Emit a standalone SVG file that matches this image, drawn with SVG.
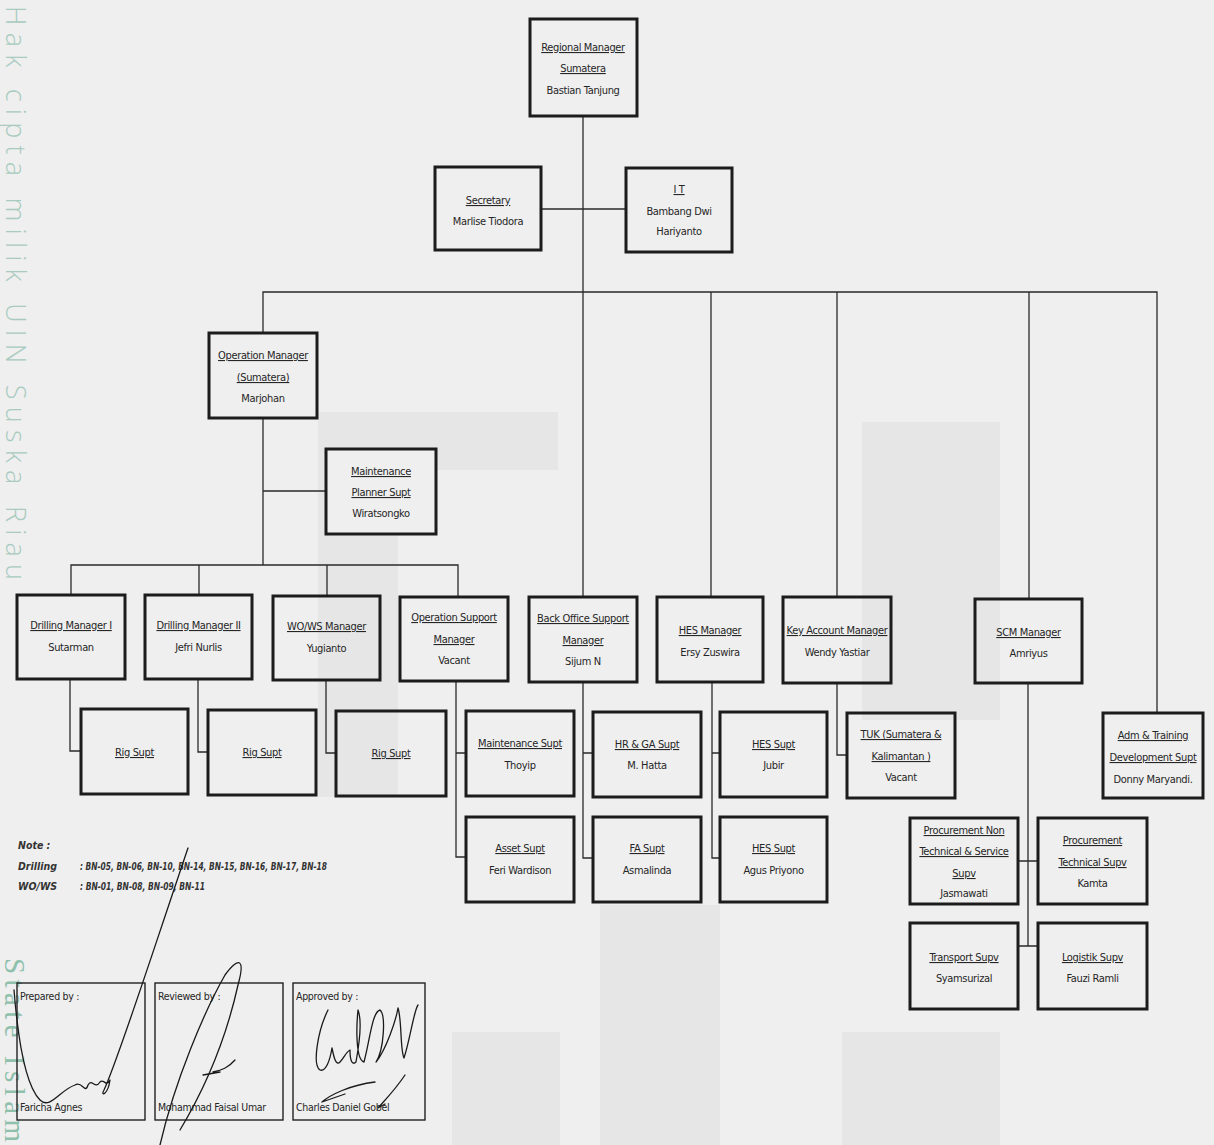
<svg xmlns="http://www.w3.org/2000/svg" width="1214" height="1145" viewBox="0 0 1214 1145">
<style>
.bg{fill:#efefef}
.wmk{fill:#e6e6e6}
.box{fill:none;stroke:#1c1c1c;stroke-width:3}
.sbox{fill:none;stroke:#222;stroke-width:1.4}
.ln{fill:none;stroke:#2a2a2a;stroke-width:1.3}
.sig{fill:none;stroke:#1a1a1a;stroke-width:1.3;stroke-linecap:round;stroke-linejoin:round}
.t{font-family:"DejaVu Sans Condensed","Liberation Sans Narrow","Liberation Sans",sans-serif;font-size:11px;letter-spacing:-0.35px;text-anchor:middle;fill:#262626}
.u{text-decoration:underline}
.n{font-family:"DejaVu Sans Condensed","Liberation Sans",sans-serif;font-size:10.5px;font-style:italic;font-weight:bold;fill:#333}
.s{font-family:"DejaVu Sans Condensed","Liberation Sans",sans-serif;font-size:10.5px;letter-spacing:-0.3px;fill:#262626}
.wm{font-family:"Open Sans","DejaVu Sans",sans-serif;font-size:27px;font-weight:300;fill:#a9cbbf}
.wm2{font-family:"Liberation Serif","DejaVu Serif",serif;font-size:29px;fill:#8fc0ac}
</style>
<rect class="bg" x="0" y="0" width="1214" height="1145"/>
<g id="watermark-logo">
<rect class="wmk" x="318" y="412" width="80" height="385"/>
<rect class="wmk" x="398" y="412" width="160" height="58"/>
<rect class="wmk" x="862" y="422" width="138" height="298"/>
<rect class="wmk" x="600" y="905" width="120" height="240"/>
<rect class="wmk" x="842" y="1032" width="158" height="113"/>
<rect class="wmk" x="452" y="1032" width="108" height="113"/>
</g>
<g id="watermark-text">
<text class="wm" transform="translate(6,6) rotate(90)" textLength="574" lengthAdjust="spacing">Hak cipta milik UIN Suska Riau</text>
<text class="wm2" transform="translate(5,958) rotate(90)" textLength="184" lengthAdjust="spacing">State Islam</text>
</g>
<g id="connectors">
<path class="ln" d="M583,116 V597"/>
<path class="ln" d="M541,209 H626"/>
<path class="ln" d="M263,333 V292 H1157 V713"/>
<path class="ln" d="M711,292 V597 M837,292 V597 M1029,292 V599"/>
<path class="ln" d="M263,418 V565 M263,491 H326"/>
<path class="ln" d="M71,595 V565 H458 V597 M199,565 V595 M327,565 V596"/>
<path class="ln" d="M70,679 V751 H81 M198,679 V752 H208 M326,680 V753 H336"/>
<path class="ln" d="M456,681 V857 H466 M456,753 H466"/>
<path class="ln" d="M583,682 V858 H593 M583,753 H593"/>
<path class="ln" d="M712,682 V858 H720 M712,753 H720"/>
<path class="ln" d="M837,683 V755 H847"/>
<path class="ln" d="M1028,683 V946 M1018,861 H1038 M1018,946 H1038"/>
</g>
<g id="n-regional"><rect class="box" x="530" y="19" width="107" height="97"/>
<text class="t u" x="583" y="51">Regional Manager</text><text class="t u" x="583" y="72">Sumatera</text><text class="t" x="583" y="94">Bastian Tanjung</text></g>
<g id="n-secretary"><rect class="box" x="435" y="167" width="106" height="83"/>
<text class="t u" x="488" y="204">Secretary</text><text class="t" x="488" y="225">Marlise Tiodora</text></g>
<g id="n-it"><rect class="box" x="626" y="168" width="106" height="84"/>
<text class="t u" x="679" y="193">I T</text><text class="t" x="679" y="215">Bambang Dwi</text><text class="t" x="679" y="235">Hariyanto</text></g>
<g id="n-opm"><rect class="box" x="209" y="333" width="108" height="85"/>
<text class="t u" x="263" y="359">Operation Manager</text><text class="t u" x="263" y="381">(Sumatera)</text><text class="t" x="263" y="402">Marjohan</text></g>
<g id="n-mps"><rect class="box" x="326" y="449" width="110" height="85" style="fill:#efefef"/>
<text class="t u" x="381" y="475">Maintenance</text><text class="t u" x="381" y="496">Planner Supt</text><text class="t" x="381" y="517">Wiratsongko</text></g>
<g id="n-dm1"><rect class="box" x="17" y="595" width="108" height="84"/>
<text class="t u" x="71" y="629">Drilling Manager I</text><text class="t" x="71" y="651">Sutarman</text></g>
<g id="n-dm2"><rect class="box" x="145" y="595" width="107" height="84"/>
<text class="t u" x="198.5" y="629">Drilling Manager II</text><text class="t" x="198.5" y="651">Jefri Nurlis</text></g>
<g id="n-wows"><rect class="box" x="273" y="596" width="107" height="84"/>
<text class="t u" x="326.5" y="630">WO/WS Manager</text><text class="t" x="326.5" y="652">Yugianto</text></g>
<g id="n-ops"><rect class="box" x="400" y="597" width="108" height="84"/>
<text class="t u" x="454" y="621">Operation Support</text><text class="t u" x="454" y="643">Manager</text><text class="t" x="454" y="664">Vacant</text></g>
<g id="n-bos"><rect class="box" x="529" y="597" width="108" height="85"/>
<text class="t u" x="583" y="622">Back Office Support</text><text class="t u" x="583" y="644">Manager</text><text class="t" x="583" y="665">Sijum N</text></g>
<g id="n-hesm"><rect class="box" x="657" y="597" width="106" height="85"/>
<text class="t u" x="710" y="634">HES Manager</text><text class="t" x="710" y="656">Ersy Zuswira</text></g>
<g id="n-kam"><rect class="box" x="783" y="597" width="108" height="86"/>
<text class="t u" x="837" y="634">Key Account Manager</text><text class="t" x="837" y="656">Wendy Yastiar</text></g>
<g id="n-scm"><rect class="box" x="975" y="599" width="107" height="84"/>
<text class="t u" x="1028.5" y="636">SCM Manager</text><text class="t" x="1028.5" y="657">Amriyus</text></g>
<g id="n-adm"><rect class="box" x="1103" y="713" width="100" height="85"/>
<text class="t u" x="1153" y="739">Adm &amp; Training</text><text class="t u" x="1153" y="761">Development Supt</text><text class="t" x="1153" y="783">Donny Maryandi.</text></g>
<g id="n-rig1"><rect class="box" x="81" y="709" width="107" height="85"/>
<text class="t u" x="134.5" y="756">Rig Supt</text></g>
<g id="n-rig2"><rect class="box" x="208" y="710" width="108" height="85"/>
<text class="t u" x="262" y="756">Rig Supt</text></g>
<g id="n-rig3"><rect class="box" x="336" y="711" width="110" height="85"/>
<text class="t u" x="391" y="757">Rig Supt</text></g>
<g id="n-ms"><rect class="box" x="466" y="711" width="108" height="85"/>
<text class="t u" x="520" y="747">Maintenance Supt</text><text class="t" x="520" y="769">Thoyip</text></g>
<g id="n-asset"><rect class="box" x="466" y="817" width="108" height="85"/>
<text class="t u" x="520" y="852">Asset Supt</text><text class="t" x="520" y="874">Feri Wardison</text></g>
<g id="n-hrga"><rect class="box" x="593" y="712" width="108" height="85"/>
<text class="t u" x="647" y="748">HR &amp; GA Supt</text><text class="t" x="647" y="769">M. Hatta</text></g>
<g id="n-fa"><rect class="box" x="593" y="817" width="108" height="85"/>
<text class="t u" x="647" y="852">FA Supt</text><text class="t" x="647" y="874">Asmalinda</text></g>
<g id="n-hes1"><rect class="box" x="720" y="712" width="107" height="85"/>
<text class="t u" x="773.5" y="748">HES Supt</text><text class="t" x="773.5" y="769">Jubir</text></g>
<g id="n-hes2"><rect class="box" x="720" y="817" width="107" height="85"/>
<text class="t u" x="773.5" y="852">HES Supt</text><text class="t" x="773.5" y="874">Agus Priyono</text></g>
<g id="n-tuk"><rect class="box" x="847" y="713" width="108" height="85"/>
<text class="t u" x="901" y="738">TUK (Sumatera &amp;</text><text class="t u" x="901" y="760">Kalimantan )</text><text class="t" x="901" y="781">Vacant</text></g>
<g id="n-pnt"><rect class="box" x="910" y="818" width="108" height="86"/>
<text class="t u" x="964" y="834">Procurement Non</text><text class="t u" x="964" y="855">Technical &amp; Service</text><text class="t u" x="964" y="877">Supv</text><text class="t" x="964" y="897">Jasmawati</text></g>
<g id="n-pt"><rect class="box" x="1038" y="818" width="109" height="86"/>
<text class="t u" x="1092.5" y="844">Procurement</text><text class="t u" x="1092.5" y="866">Technical Supv</text><text class="t" x="1092.5" y="887">Kamta</text></g>
<g id="n-tr"><rect class="box" x="910" y="923" width="108" height="86"/>
<text class="t u" x="964" y="961">Transport Supv</text><text class="t" x="964" y="982">Syamsurizal</text></g>
<g id="n-lg"><rect class="box" x="1038" y="923" width="109" height="86"/>
<text class="t u" x="1092.5" y="961">Logistik Supv</text><text class="t" x="1092.5" y="982">Fauzi Ramli</text></g>
<g id="note">
<text class="n" x="18" y="849">Note :</text>
<text class="n" x="18" y="870">Drilling</text>
<text class="n" x="80" y="870" textLength="247" lengthAdjust="spacingAndGlyphs">: BN-05, BN-06, BN-10, BN-14, BN-15, BN-16, BN-17, BN-18</text>
<text class="n" x="18" y="890">WO/WS</text>
<text class="n" x="80" y="890" textLength="125" lengthAdjust="spacingAndGlyphs">: BN-01, BN-08, BN-09, BN-11</text>
</g>
<g id="signatures">
<rect class="sbox" x="17" y="983" width="128" height="137"/>
<rect class="sbox" x="155" y="983" width="128" height="137"/>
<rect class="sbox" x="293" y="983" width="132" height="137"/>
<text class="s" x="20" y="1000">Prepared by :</text>
<text class="s" x="158" y="1000">Reviewed by :</text>
<text class="s" x="296" y="1000">Approved by :</text>
<text class="s" x="20" y="1111">Faricha Agnes</text>
<text class="s" x="158" y="1111">Mohammad Faisal Umar</text>
<text class="s" x="296" y="1111">Charles Daniel Gobel</text>
<path class="sig" d="M14,990 C18,1040 25,1085 40,1100 C50,1110 60,1090 75,1085 C82,1080 85,1095 88,1085 C92,1078 95,1090 100,1082 C104,1078 106,1088 110,1080 C108,1095 100,1097 104,1090 C118,1060 150,960 188,848"/>
<path class="sig" d="M160,1145 C175,1080 205,1010 225,975 C240,955 245,960 238,985 C228,1030 210,1080 180,1130"/>
<path class="sig" d="M203,1075 L220,1072 M213,1072 C222,1070 228,1068 235,1060"/>
<path class="sig" d="M328,1010 C318,1030 312,1065 320,1070 C326,1072 330,1060 332,1048 C334,1058 336,1066 340,1062 C344,1058 346,1052 350,1050 C350,1060 352,1066 356,1062 C360,1040 362,1020 358,1010 C356,1030 356,1060 364,1062 C370,1040 372,1012 380,1010 C386,1015 384,1050 376,1062 C386,1050 396,1020 398,1008 C402,1020 400,1050 404,1058 C410,1040 414,1010 418,1005"/>
<path class="sig" d="M375,1082 C350,1085 330,1095 322,1102 L345,1094 M405,1075 C395,1090 385,1100 378,1108 L385,1104"/>
</g>
</svg>
